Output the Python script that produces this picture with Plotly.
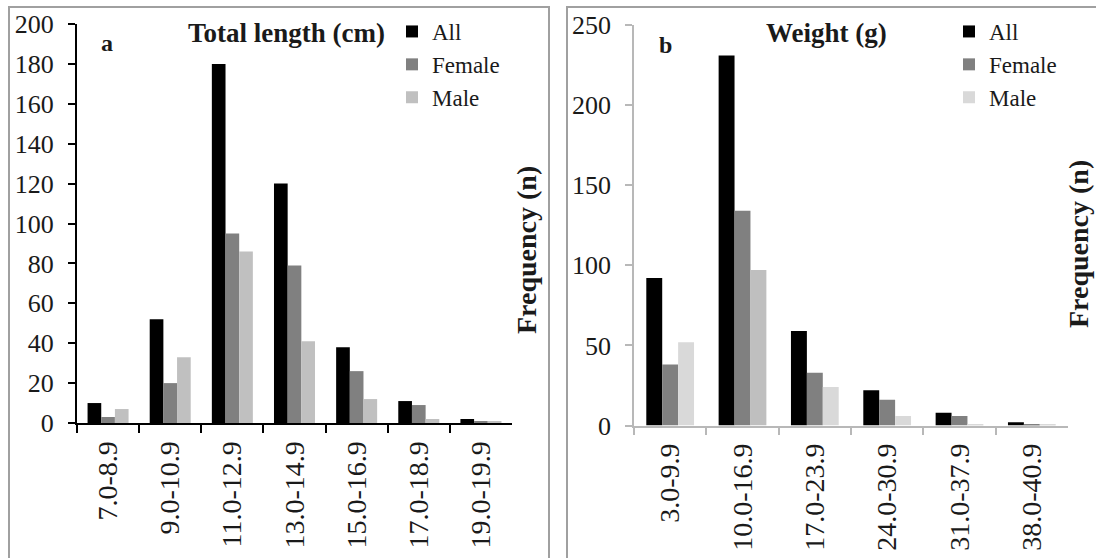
import plotly.graph_objects as go

# ---------------- data ----------------
length_classes = ["7.0-8.9", "9.0-10.9", "11.0-12.9", "13.0-14.9", "15.0-16.9", "17.0-18.9", "19.0-19.9"]
length_all = [10, 52, 180, 120, 38, 11, 2]
length_female = [3, 20, 95, 79, 26, 9, 1]
length_male = [7, 33, 86, 41, 12, 2, 1]

weight_classes = ["3.0-9.9", "10.0-16.9", "17.0-23.9", "24.0-30.9", "31.0-37.9", "38.0-40.9"]
weight_all = [92, 231, 59, 22, 8, 2]
weight_female = [38, 134, 33, 16, 6, 1]
weight_male = [52, 97, 24, 6, 1, 0.5]

series_names = ["All", "Female", "Male"]

# ---------------- styles ----------------
W, H = 1096, 558
SERIF = "Liberation Serif, Times New Roman, serif"
C_ALL = "#000000"
C_FEM = "#808080"
C_MALE_A = "#c0c0c0"
C_MALE_B = ["#d9d9d9", "#bfbfbf", "#d9d9d9", "#d9d9d9", "#d9d9d9", "#d9d9d9"]
TXT = "#1a1a1a"


def px_x(p):
    return p / W


def px_y(p):
    return 1 - p / H


fig = go.Figure()

for name, vals, col in zip(series_names, [length_all, length_female, length_male], [C_ALL, C_FEM, C_MALE_A]):
    fig.add_trace(go.Bar(x=length_classes, y=vals, name=name, marker=dict(color=col, line=dict(width=0)),
                         xaxis="x", yaxis="y", legend="legend"))

for name, vals, col in zip(series_names, [weight_all, weight_female, weight_male], [C_ALL, C_FEM, C_MALE_B]):
    fig.add_trace(go.Bar(x=weight_classes, y=vals, name=name, marker=dict(color=col, line=dict(width=0)),
                         xaxis="x2", yaxis="y2", legend="legend2"))

tick_font = dict(family=SERIF, size=26, color=TXT)
xtick_font = dict(family=SERIF, size=28, color=TXT)

fig.update_layout(
    template="none",
    font=dict(family=SERIF, color=TXT),
    width=W, height=H, autosize=False,
    margin=dict(l=0, r=0, t=0, b=0, pad=0),
    paper_bgcolor="white", plot_bgcolor="white",
    barmode="group", bargap=0.34, bargroupgap=0,
    xaxis=dict(domain=[px_x(77), px_x(512)], anchor="y", type="category", automargin=False,
               showline=True, linecolor="#000000", linewidth=2,
               ticks="outside", tickson="boundaries", ticklen=8, tickwidth=1.5, tickcolor="#000000",
               tickangle=-90, tickfont=xtick_font, ticklabelstandoff=5, showgrid=False, zeroline=False),
    yaxis=dict(domain=[px_y(423), px_y(24)], anchor="x", range=[0, 200], dtick=20, automargin=False,
               showline=True, linecolor="#000000", linewidth=2,
               ticks="outside", ticklen=7, tickwidth=1.5, tickcolor="#000000",
               tickfont=tick_font, ticklabelstandoff=9, showgrid=False, zeroline=False),
    xaxis2=dict(domain=[px_x(634), px_x(1068)], anchor="y2", type="category", automargin=False,
                showline=True, linecolor="#b8b8b8", linewidth=1.5,
                ticks="outside", tickson="boundaries", ticklen=8, tickwidth=1.5, tickcolor="#b8b8b8",
                tickangle=-90, tickfont=xtick_font, ticklabelstandoff=5, showgrid=False, zeroline=False),
    yaxis2=dict(domain=[px_y(425.5), px_y(25)], anchor="x2", range=[0, 250], dtick=50, automargin=False,
                showline=True, linecolor="#b8b8b8", linewidth=1.5,
                ticks="outside", ticklen=7, tickwidth=1.5, tickcolor="#b8b8b8",
                tickfont=tick_font, ticklabelstandoff=9, showgrid=False, zeroline=False),
    legend=dict(x=px_x(392), y=px_y(10), xanchor="left", yanchor="top",
                bgcolor="rgba(0,0,0,0)", font=dict(family=SERIF, size=23, color=TXT),
                tracegroupgap=0, itemwidth=30),
    legend2=dict(x=px_x(949), y=px_y(10), xanchor="left", yanchor="top",
                 bgcolor="rgba(0,0,0,0)", font=dict(family=SERIF, size=23, color=TXT),
                 tracegroupgap=0, itemwidth=30),
    showlegend=True,
)

# panel frames
frame = dict(color="#a0a0a0", width=2)
fig.add_shape(type="rect", xref="paper", yref="paper", x0=px_x(9), x1=px_x(549), y0=px_y(600), y1=px_y(7),
              line=frame, fillcolor="rgba(0,0,0,0)", layer="below")
fig.add_shape(type="rect", xref="paper", yref="paper", x0=px_x(567), x1=px_x(1120), y0=px_y(600), y1=px_y(7),
              line=frame, fillcolor="rgba(0,0,0,0)", layer="below")

ann_common = dict(xref="paper", yref="paper", showarrow=False, xanchor="center", yanchor="middle")
fig.add_annotation(text="<b>Total length (cm)</b>", x=px_x(286), y=px_y(33),
                   font=dict(family=SERIF, size=27, color=TXT), **ann_common)
fig.add_annotation(text="<b>Weight (g)</b>", x=px_x(826), y=px_y(33),
                   font=dict(family=SERIF, size=27, color=TXT), **ann_common)
fig.add_annotation(text="<b>a</b>", x=px_x(107), y=px_y(43),
                   font=dict(family=SERIF, size=24, color=TXT), **ann_common)
fig.add_annotation(text="<b>b</b>", x=px_x(665), y=px_y(45),
                   font=dict(family=SERIF, size=24, color=TXT), **ann_common)
fig.add_annotation(text="<b>Frequency (n)</b>", x=px_x(526), y=px_y(250), textangle=-90,
                   font=dict(family=SERIF, size=28, color=TXT), **ann_common)
fig.add_annotation(text="<b>Frequency (n)</b>", x=px_x(1078), y=px_y(244), textangle=-90,
                   font=dict(family=SERIF, size=28, color=TXT), **ann_common)

fig.write_html("out.html", config={"displayModeBar": False},
               post_script="document.body.style.margin='0';document.body.style.overflow='hidden';")
